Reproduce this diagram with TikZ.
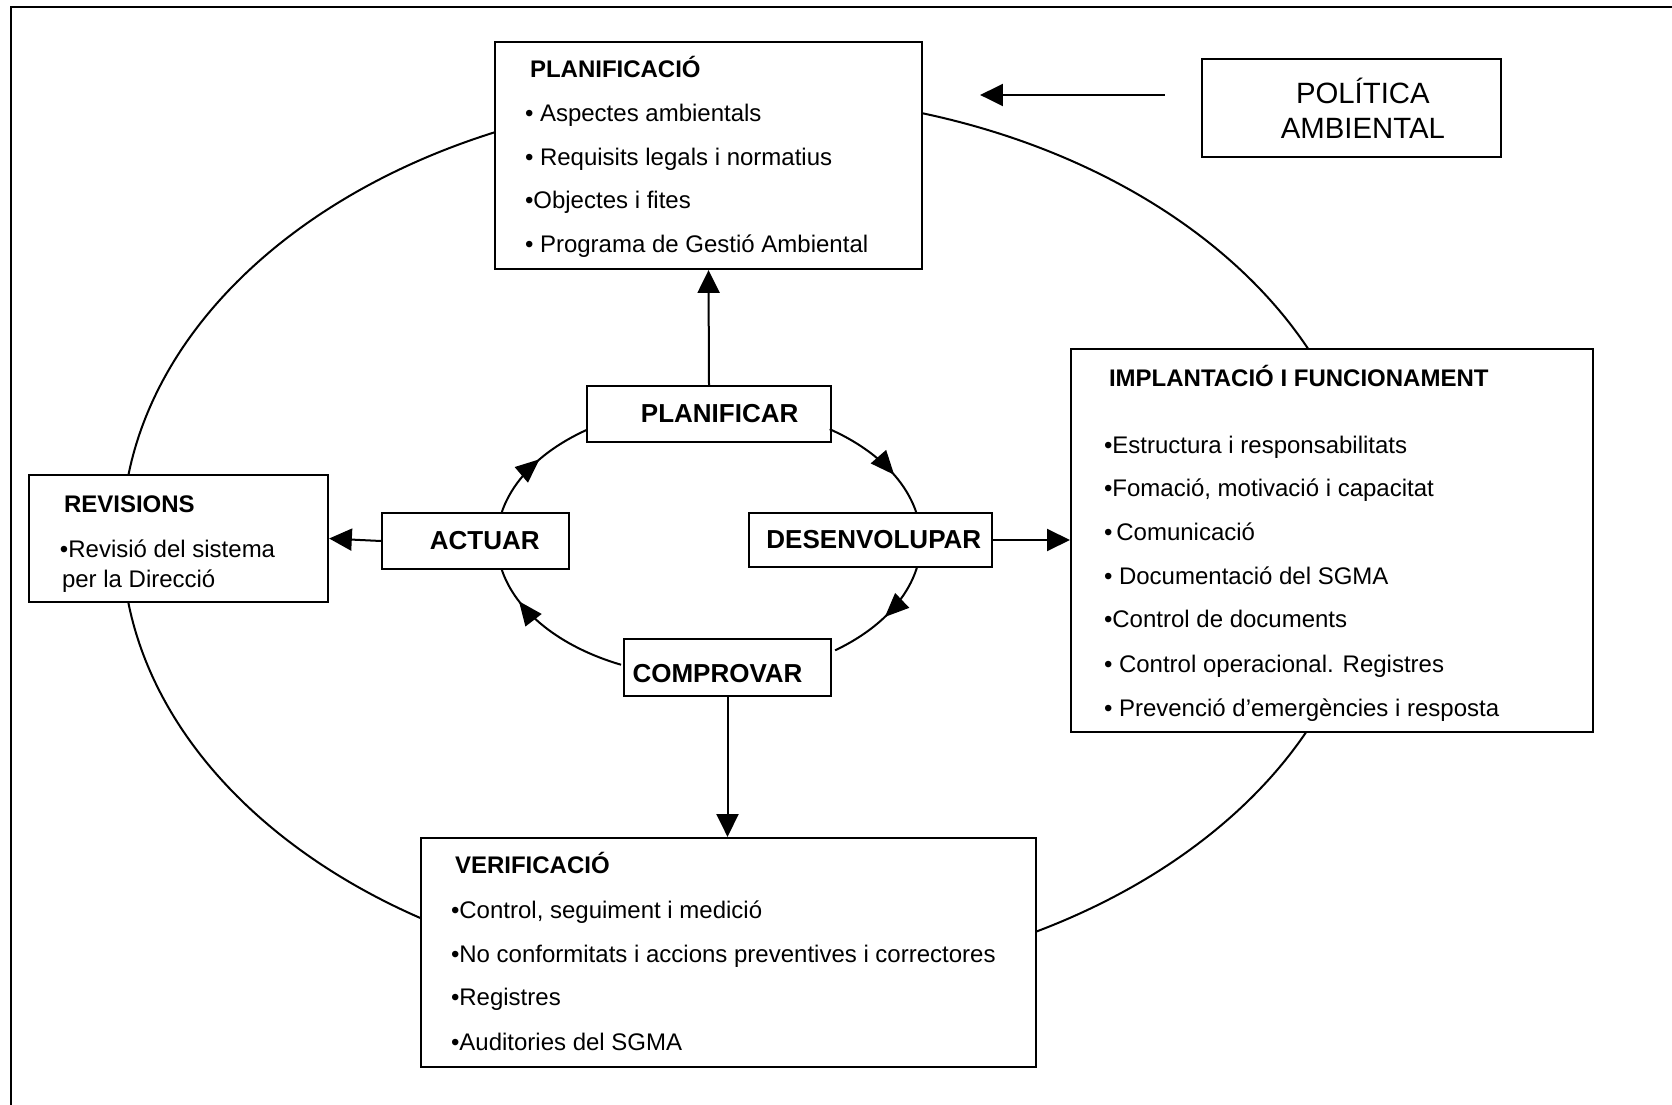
\documentclass[tikz,border=0pt]{standalone}
\usepackage{fontspec}
\setmainfont{Liberation Sans}
\usetikzlibrary{arrows.meta,decorations.markings}

\tikzset{every picture/.style={line width=1.5pt}}
\tikzset{
  box/.style={draw, fill=white, line width=1.75pt, inner sep=0pt},
  pdca/.style={box, font=\fontsize{19.5}{23}\selectfont\bfseries},
  ttl/.style={anchor=base west, inner sep=0.75pt, font=\fontsize{18}{21}\selectfont\bfseries},
  itm/.style={anchor=base west, inner sep=0.75pt, font=\fontsize{18}{21}\selectfont},
  arr/.style={-{Triangle[length=17pt,width=16.5pt]}},
  loop arc/.style={postaction={decorate},
    decoration={markings, mark=at position #1 with {\arrow{Triangle[length=18pt,width=15pt]}}}},
}

\begin{document}
\begin{tikzpicture}[x=0.75pt,y=0.75pt,yscale=-1,xscale=1]
\useasboundingbox (0,0) rectangle (1672,1105);

%Frame
\draw (11,1105) -- (11,7) -- (1672,7);

%Shape: Ellipse [id:outer cycle]
\draw (745,539) ellipse [x radius=623, y radius=444];

%Shape: Rectangle [id:planificacio]
\node[box, minimum width=320.25pt, minimum height=170.25pt] (plnf) at (708.5,155.5) {};
%Shape: Rectangle [id:politica]
\node[box, minimum width=224.25pt, minimum height=73.5pt, align=center,
  font=\fontsize{22}{26.25}\selectfont] (pol) at (1351.5,108) {\hspace*{17pt}POLÍTICA\\\hspace*{17pt}AMBIENTAL};
%Shape: Rectangle [id:implantacio]
\node[box, minimum width=391.5pt, minimum height=287.25pt] (impl) at (1332,540.5) {};
%Shape: Rectangle [id:revisions]
\node[box, minimum width=224.25pt, minimum height=95.25pt] (rev) at (178.5,538.5) {};
%Shape: Rectangle [id:verificacio]
\node[box, minimum width=461.25pt, minimum height=171.75pt] (verif) at (728.5,952.5) {};

%PDCA boxes
\node[pdca, minimum width=183pt, minimum height=42pt] (planificar) at (709,414) {\hspace*{16pt}PLANIFICAR};
\node[pdca, minimum width=140.25pt, minimum height=42pt] (actuar) at (475.5,541) {\hspace*{14pt}ACTUAR};
\node[pdca, minimum width=182.25pt, minimum height=40.5pt] (desenv) at (870.5,540) {\hspace*{5pt}DESENVOLUPAR};
\node[pdca, minimum width=155.25pt, minimum height=42.75pt, text height=22pt] (comprovar) at (727.5,667.5) {COMPROVAR\hspace*{15pt}};

% Text Node
\node[ttl] (plnf-t) at (528,78) {PLANIFICACIÓ};
% Text Node
\node[itm] (plnf-1) at (523,122) {• Aspectes ambientals};
% Text Node
\node[itm] (plnf-2) at (523,165.5) {• Requisits legals i normatius};
% Text Node
\node[itm] (plnf-3) at (523,209) {•Objectes i fites};
% Text Node
\node[itm] (plnf-4) at (523,252.5) {• Programa de Gestió Ambiental};

% Text Node
\node[ttl] (impl-t) at (1107,387) {IMPLANTACIÓ I FUNCIONAMENT};
% Text Node
\node[itm] (impl-1) at (1102,454) {•Estructura i responsabilitats};
% Text Node
\node[itm] (impl-2) at (1102,497) {•Fomació, motivació i capacitat};
% Text Node
\node[itm] (impl-3) at (1102,541) {•\,Comunicació};
% Text Node
\node[itm] (impl-4) at (1102,585) {• Documentació del SGMA};
% Text Node
\node[itm] (impl-5) at (1102,628) {•Control de documents};
% Text Node
\node[itm] (impl-6) at (1102,672) {• Control operacional. Registres};
% Text Node
\node[itm] (impl-7) at (1102,716) {• Prevenció d’emergències i resposta};

% Text Node
\node[ttl] (rev-t) at (62,513) {REVISIONS};
% Text Node
\node[itm] (rev-1) at (58,557) {•Revisió del sistema};
% Text Node
\node[itm] (rev-2) at (60,587) {per la Direcció};

% Text Node
\node[ttl] (verif-t) at (453,873) {VERIFICACIÓ};
% Text Node
\node[itm] (verif-1) at (449,918) {•Control, seguiment i medició};
% Text Node
\node[itm] (verif-2) at (449,962) {•No conformitats i accions preventives i correctores};
% Text Node
\node[itm] (verif-3) at (449,1005) {•Registres};
% Text Node
\node[itm] (verif-4) at (449,1050) {•Auditories del SGMA};

%Curve Lines [id:inner cycle]
\coordinate (pdca) at (709,541);
\draw[loop arc=0.64] ([shift={(-55.3:212 and 136)}]pdca) arc[start angle=-55.3, end angle=-11.8, x radius=212, y radius=136];
\draw[loop arc=0.5] ([shift={(11:212 and 136)}]pdca) arc[start angle=11, end angle=53.5, x radius=212, y radius=136];
\draw[loop arc=0.77] ([shift={(114.5:212 and 136)}]pdca) arc[start angle=114.5, end angle=168, x radius=212, y radius=136];
\draw[loop arc=0.54] ([shift={(192:212 and 136)}]pdca) arc[start angle=192, end angle=235, x radius=212, y radius=136];

%Straight Lines
\draw[arr] (planificar.north) -- (plnf.south);
\draw[arr] (actuar.west) -- (rev.east);
\draw[arr] (desenv.east) -- (desenv.east -| impl.west);
\draw[arr] (comprovar.south) -- (comprovar.south |- verif.north);
\coordinate (pol-in) at ([yshift=-9.75pt]pol.west);
\draw[arr, shorten <=27pt, shorten >=42.75pt] (pol-in) -- (pol-in -| plnf.east);

\end{tikzpicture}
\end{document}
